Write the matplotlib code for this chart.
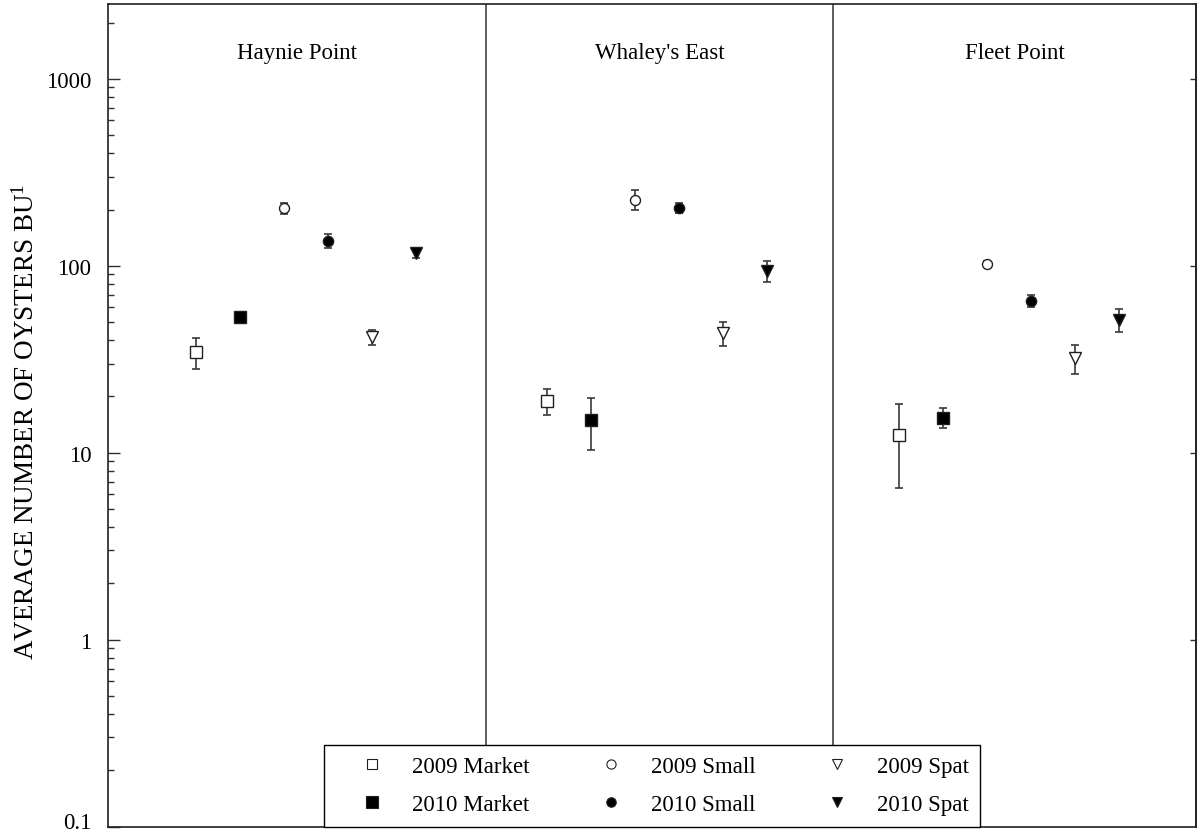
import matplotlib
matplotlib.use("Agg")
import matplotlib.pyplot as plt
import matplotlib.transforms as mtransforms
from matplotlib.lines import Line2D
from matplotlib.ticker import FixedLocator, LogLocator, NullFormatter, NullLocator

plt.rcParams["font.family"] = ["Liberation Serif", "DejaVu Serif"]
plt.rcParams["mathtext.default"] = "regular"

sites = ["Haynie Point", "Whaley's East", "Fleet Point"]
series = ["2009 Market", "2010 Market", "2009 Small", "2010 Small", "2009 Spat", "2010 Spat"]

# mean oysters per bushel, one value per site (Haynie, Whaley's, Fleet)
market_2009 = [34.5, 19.0, 12.4]
market_2010 = [53.5, 15.0, 15.4]
small_2009 = [203.0, 226.0, 102.5]
small_2010 = [136.0, 204.0, 65.0]
spat_2009 = [41.5, 43.5, 32.0]
spat_2010 = [117.0, 93.5, 51.5]

# standard errors
market_2009_se = [6.5, 3.0, 5.9]
market_2010_se = [3.0, 4.7, 1.9]
small_2009_se = [13.0, 28.0, 3.0]
small_2010_se = [12.0, 13.0, 5.0]
spat_2009_se = [4.0, 6.3, 5.6]
spat_2010_se = [7.0, 12.0, 7.5]

means = [market_2009, market_2010, small_2009, small_2010, spat_2009, spat_2010]
errs = [market_2009_se, market_2010_se, small_2009_se, small_2010_se, spat_2009_se, spat_2010_se]

ytick_vals = [0.1, 1, 10, 100, 1000]
ytick_text = ["0.1", "1", "10", "100", "1000"]

# marker, filled?, size
styles = [("s", False, 8.2), ("s", True, 8.8), ("o", False, 7.2),
          ("o", True, 7.4), ("v", False, 8.2), ("v", True, 8.2)]

dividers = [7.6, 15.5]
xlim = (-1, 23.76)

fig = plt.figure(figsize=(11.99, 8.37), dpi=100)
ax = fig.add_axes([0.0901, 0.01135, 0.9074, 0.98208])
ax.set_yscale("log")
ax.set_ylim(0.1, 2500)
ax.set_xlim(*xlim)

handles = []
for j, (lab, m, e, (mk, filled, ms)) in enumerate(zip(series, means, errs, styles)):
    xs = [i * 8 + j + 1 for i in range(len(sites))]
    ax.errorbar(xs, m, yerr=e, fmt="none", ecolor="#3a3a3a", elinewidth=1.2,
                capsize=3, capthick=1.2, zorder=3)
    face = "black" if filled else "white"
    ax.plot(xs, m, linestyle="none", marker=mk, markersize=ms,
            markerfacecolor=face, markeredgecolor="#202020",
            markeredgewidth=1.0, zorder=4)
    handles.append(Line2D([], [], linestyle="none", marker=mk, markersize=ms,
                          markerfacecolor=face, markeredgecolor="#202020",
                          markeredgewidth=0.8))

for xd in dividers:
    ax.axvline(xd, color="#505050", linewidth=1.3, zorder=1)

# site names centred over each panel
edges = [xlim[0]] + dividers + [xlim[1]]
trans = mtransforms.blended_transform_factory(ax.transData, ax.transAxes)
for i, name in enumerate(sites):
    cx = (edges[i] + edges[i + 1]) / 2
    ax.text(cx, 0.9422, name, transform=trans, ha="center", va="center",
            fontsize=16.5)

ax.set_yticks(ytick_vals)
# bottom label sits on the figure edge, so it is drawn a little higher by hand
ax.set_yticklabels([""] + ytick_text[1:])
ylab_trans = mtransforms.blended_transform_factory(ax.transAxes, ax.transData)
ax.text(-0.0155, ytick_vals[0], ytick_text[0], transform=ylab_trans
        + mtransforms.ScaledTranslation(0, 3 / 72, fig.dpi_scale_trans),
        ha="right", va="center", fontsize=16.5)
ax.yaxis.set_minor_locator(LogLocator(base=10, subs=range(2, 10)))
ax.yaxis.set_minor_formatter(NullFormatter())
ax.tick_params(axis="y", which="major", direction="in", length=8.6, width=1.0,
               pad=12, labelsize=16.5, color="#303030")
ax.tick_params(axis="y", which="minor", direction="in", length=4.3, width=1.0,
               color="#303030")
ax.tick_params(axis="x", which="both", bottom=False, labelbottom=False)

sec = ax.secondary_yaxis("right")
sec.yaxis.set_major_locator(FixedLocator([1, 10, 100, 1000]))
sec.yaxis.set_minor_locator(NullLocator())
sec.tick_params(axis="y", which="major", direction="in", length=4, width=1.0,
                labelright=False, color="#303030")
sec.spines["right"].set_color("#202020")
sec.spines["right"].set_linewidth(1.2)

for sp in ax.spines.values():
    sp.set_color("#202020")
    sp.set_linewidth(1.2)

fig.text(0.0217, 1 - 421.5 / 837, "AVERAGE NUMBER OF OYSTERS BU$^{1}$",
         rotation=90, ha="center", va="center", fontsize=19.5)

leg = ax.legend(handles, series, ncol=3, loc="lower left",
                bbox_to_anchor=(0.1987, 0.0), borderaxespad=0, frameon=True,
                fancybox=False, edgecolor="black", framealpha=1, fontsize=16.5,
                handlelength=3.17, handletextpad=0.15, columnspacing=1.98,
                labelspacing=0.74, borderpad=0.5, markerscale=0.92)
leg.get_frame().set_linewidth(1.0)
leg.set_zorder(10)

fig.savefig("out.png", dpi=100)
